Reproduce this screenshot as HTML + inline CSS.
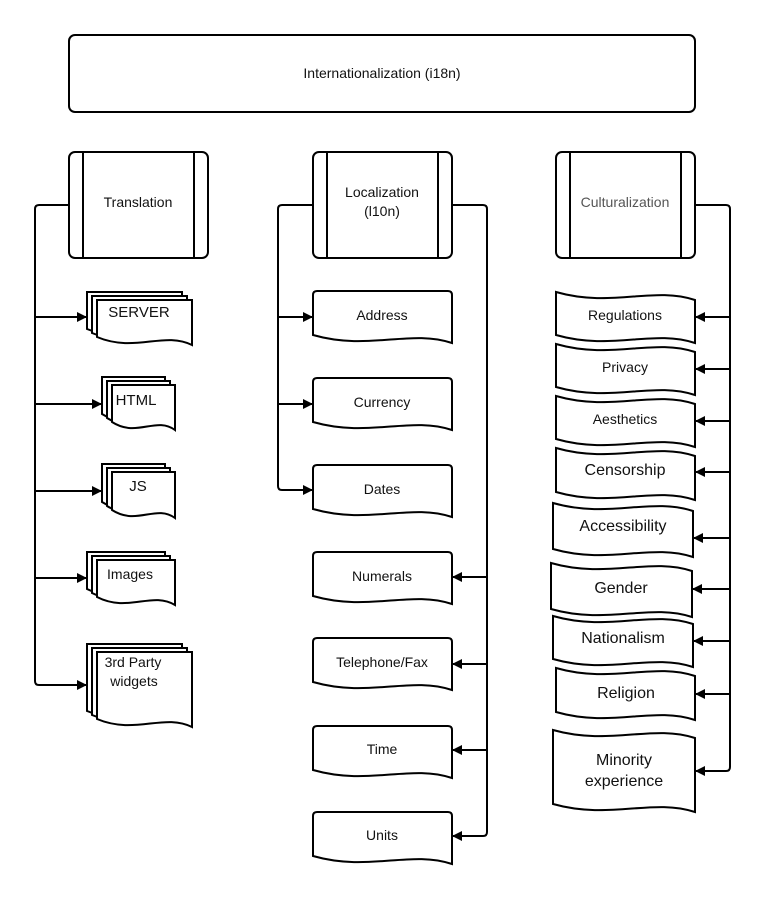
<!DOCTYPE html>
<html><head><meta charset="utf-8"><style>
html,body{margin:0;padding:0;background:#fff}
svg{display:block}
text{font-family:"Liberation Sans",sans-serif;fill:#111;text-anchor:middle}
</style></head><body>
<svg width="765" height="900" viewBox="0 0 765 900" xmlns="http://www.w3.org/2000/svg">
<defs>
<marker id="a" markerWidth="10" markerHeight="10" refX="9" refY="5" orient="auto" markerUnits="userSpaceOnUse">
<path d="M0,0 L10,5 L0,10 Z" fill="#000"/></marker>
</defs>
<g fill="none" stroke="#000" stroke-width="2">
<rect x="69" y="35" width="626" height="77" rx="6" fill="#fff"/>
<!-- process boxes -->
<rect x="69" y="152" width="139" height="106" rx="6" fill="#fff"/>
<line x1="83" y1="152" x2="83" y2="258"/><line x1="194" y1="152" x2="194" y2="258"/>
<rect x="313" y="152" width="139" height="106" rx="6" fill="#fff"/>
<line x1="327" y1="152" x2="327" y2="258"/><line x1="438" y1="152" x2="438" y2="258"/>
<rect x="556" y="152" width="139" height="106" rx="6" fill="#fff"/>
<line x1="570" y1="152" x2="570" y2="258"/><line x1="681" y1="152" x2="681" y2="258"/>

<!-- left connectors -->
<path d="M69,205 H39 Q35,205 35,209 V681 Q35,685 39,685 H86" marker-end="url(#a)"/>
<path d="M35,317 H86" marker-end="url(#a)"/>
<path d="M35,404 H101" marker-end="url(#a)"/>
<path d="M35,491 H101" marker-end="url(#a)"/>
<path d="M35,578 H86" marker-end="url(#a)"/>

<!-- middle connectors -->
<path d="M313,205 H282 Q278,205 278,209 V486 Q278,490 282,490 H312" marker-end="url(#a)"/>
<path d="M278,317 H312" marker-end="url(#a)"/>
<path d="M278,404 H312" marker-end="url(#a)"/>
<path d="M452,205 H483 Q487,205 487,209 V832 Q487,836 483,836 H453" marker-end="url(#a)"/>
<path d="M487,577 H453" marker-end="url(#a)"/>
<path d="M487,664 H453" marker-end="url(#a)"/>
<path d="M487,750 H453" marker-end="url(#a)"/>

<!-- right connectors -->
<path d="M695,205 H726 Q730,205 730,209 V767 Q730,771 726,771 H696" marker-end="url(#a)"/>
<path d="M730,317 H696" marker-end="url(#a)"/>
<path d="M730,369 H696" marker-end="url(#a)"/>
<path d="M730,421 H696" marker-end="url(#a)"/>
<path d="M730,472 H696" marker-end="url(#a)"/>
<path d="M730,538 H694" marker-end="url(#a)"/>
<path d="M730,589 H693" marker-end="url(#a)"/>
<path d="M730,641 H694" marker-end="url(#a)"/>
<path d="M730,694 H696" marker-end="url(#a)"/>

<!-- translation stacks -->
<g fill="#fff">
<g transform="translate(-10,-8)"><path d="M97,300 H192 V345 C164,331 135,353 97,337 Z"/></g>
<g transform="translate(-5,-4)"><path d="M97,300 H192 V345 C164,331 135,353 97,337 Z"/></g>
<path d="M97,300 H192 V345 C164,331 135,353 97,337 Z"/>
<g transform="translate(-10,-8)"><path d="M112,385 H175 V430 C156,416 137,438 112,422 Z"/></g>
<g transform="translate(-5,-4)"><path d="M112,385 H175 V430 C156,416 137,438 112,422 Z"/></g>
<path d="M112,385 H175 V430 C156,416 137,438 112,422 Z"/>
<g transform="translate(-10,-8)"><path d="M112,472 H175 V518 C156,504 137,526 112,510 Z"/></g>
<g transform="translate(-5,-4)"><path d="M112,472 H175 V518 C156,504 137,526 112,510 Z"/></g>
<path d="M112,472 H175 V518 C156,504 137,526 112,510 Z"/>
<g transform="translate(-10,-8)"><path d="M97,560 H175 V605 C152,591 128,613 97,597 Z"/></g>
<g transform="translate(-5,-4)"><path d="M97,560 H175 V605 C152,591 128,613 97,597 Z"/></g>
<path d="M97,560 H175 V605 C152,591 128,613 97,597 Z"/>
<g transform="translate(-10,-8)"><path d="M97,652 H192 V727 C164,713 135,735 97,719 Z"/></g>
<g transform="translate(-5,-4)"><path d="M97,652 H192 V727 C164,713 135,735 97,719 Z"/></g>
<path d="M97,652 H192 V727 C164,713 135,735 97,719 Z"/>

<!-- localization docs -->
<path id="d" d="M317,291 H448 Q452,291 452,295 V343 C410,329 369,351 313,335 V295 Q313,291 317,291 Z"/>
<path transform="translate(0,87)" d="M317,291 H448 Q452,291 452,295 V343 C410,329 369,351 313,335 V295 Q313,291 317,291 Z"/>
<path transform="translate(0,174)" d="M317,291 H448 Q452,291 452,295 V343 C410,329 369,351 313,335 V295 Q313,291 317,291 Z"/>
<path transform="translate(0,261)" d="M317,291 H448 Q452,291 452,295 V343 C410,329 369,351 313,335 V295 Q313,291 317,291 Z"/>
<path transform="translate(0,347)" d="M317,291 H448 Q452,291 452,295 V343 C410,329 369,351 313,335 V295 Q313,291 317,291 Z"/>
<path transform="translate(0,435)" d="M317,291 H448 Q452,291 452,295 V343 C410,329 369,351 313,335 V295 Q313,291 317,291 Z"/>
<path transform="translate(0,521)" d="M317,291 H448 Q452,291 452,295 V343 C410,329 369,351 313,335 V295 Q313,291 317,291 Z"/>

<!-- culturalization tapes -->
<path d="M556,292 C612,308 653,286 695,300 V343 C653,329 612,351 556,335 Z"/>
<path d="M556,344 C612,360 653,338 695,352 V395 C653,381 612,403 556,387 Z"/>
<path d="M556,396 C612,412 653,390 695,404 V447 C653,433 612,455 556,439 Z"/>
<path d="M556,448 C612,464 653,442 695,456 V500 C653,486 612,508 556,492 Z"/>
<path d="M553,503 C609,519 651,497 693,511 V557 C651,543 609,565 553,549 Z"/>
<path d="M551,563 C607,579 650,557 692,571 V617 C650,603 607,625 551,609 Z"/>
<path d="M553,616 C609,632 651,610 693,624 V667 C651,653 609,675 553,659 Z"/>
<path d="M556,668 C612,684 653,662 695,676 V720 C653,706 612,728 556,712 Z"/>
<path d="M553,730 C610,746 652,724 695,738 V812 C652,798 610,820 553,804 Z"/>
</g>
</g>

<g font-size="14">
<text x="382" y="78">Internationalization (i18n)</text>
<text x="138" y="207">Translation</text>
<text x="382" y="197">Localization</text>
<text x="382" y="216">(l10n)</text>
<text x="625" y="207" style="fill:#555">Culturalization</text>
<text x="139" y="317" font-size="15">SERVER</text>
<text x="136" y="405" font-size="15">HTML</text>
<text x="138" y="491" font-size="15">JS</text>
<text x="130" y="579">Images</text>
<text x="133" y="667">3rd Party</text>
<text x="134" y="686">widgets</text>
<text x="382" y="320">Address</text>
<text x="382" y="407">Currency</text>
<text x="382" y="494">Dates</text>
<text x="382" y="581">Numerals</text>
<text x="382" y="667">Telephone/Fax</text>
<text x="382" y="754">Time</text>
<text x="382" y="840">Units</text>
<text x="625" y="320">Regulations</text>
<text x="625" y="372">Privacy</text>
<text x="625" y="424">Aesthetics</text>
<text x="625" y="475" font-size="16">Censorship</text>
<text x="623" y="531" font-size="16">Accessibility</text>
<text x="621" y="593" font-size="16">Gender</text>
<text x="623" y="643" font-size="16">Nationalism</text>
<text x="626" y="698" font-size="16">Religion</text>
<text x="624" y="765" font-size="16">Minority</text>
<text x="624" y="786" font-size="16">experience</text>
</g>
</svg>
</body></html>
